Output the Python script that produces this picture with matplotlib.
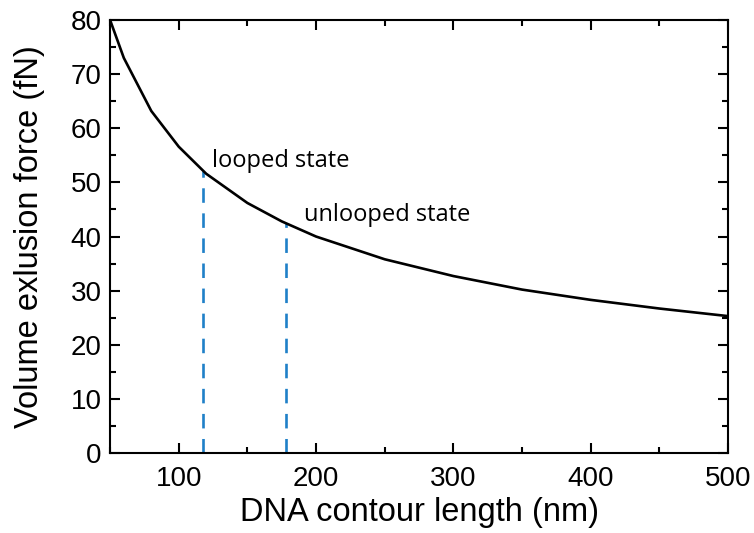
import matplotlib
matplotlib.use("Agg")
import matplotlib.pyplot as plt
from matplotlib.ticker import MultipleLocator
import numpy as np

# Data
length_nm = [50, 60, 80, 100, 120, 150, 175, 200, 250, 300, 350, 400, 450, 500]
force_fN = [80, 73, 63.2, 56.6, 51.6, 46.2, 42.8, 40.0, 35.8, 32.7, 30.2, 28.3, 26.7, 25.3]
state_x = [118, 178]
state_labels = ["looped state", "unlooped state"]
label_pos_x = [124, 191]
label_pos_y = [54.0, 43.9]

plt.rcParams['font.family'] = ['Liberation Sans', 'DejaVu Sans']

fig = plt.figure(figsize=(7.54, 5.33), dpi=100)
ax = fig.add_axes([0.146, 0.150, 0.8196, 0.8124])

ax.plot(length_nm, force_fN, color='black', lw=1.9, zorder=3)

state_y = np.interp(state_x, length_nm, force_fN)
for xv, yv in zip(state_x, state_y):
    ax.plot([xv, xv], [0, yv], color='#1f80c8', lw=1.9, dashes=(5.5, 4), zorder=2)

for t, lx, ly in zip(state_labels, label_pos_x, label_pos_y):
    ax.text(lx, ly, t, fontsize=17, family=['Open Sans', 'DejaVu Sans'], va='center', ha='left')

ax.set_xlim(50, 500)
ax.set_ylim(0, 80)
ax.xaxis.set_major_locator(MultipleLocator(100))
ax.xaxis.set_minor_locator(MultipleLocator(50))
ax.yaxis.set_major_locator(MultipleLocator(10))
ax.yaxis.set_minor_locator(MultipleLocator(5))
ax.tick_params(which='both', direction='in', top=True, right=True, width=1.5)
ax.tick_params(which='major', length=7, labelsize=20)
ax.tick_params(axis='x', which='major', pad=9)
ax.tick_params(axis='y', which='major', pad=6)
ax.tick_params(which='minor', length=4)
for s in ax.spines.values():
    s.set_linewidth(1.5)

ax.set_xlabel("DNA contour length (nm)", fontsize=23.5, labelpad=4)
ax.set_ylabel("Volume exlusion force (fN)", fontsize=23.5)
ax.yaxis.set_label_coords(-0.105, 0.5)

fig.savefig("out.png", dpi=100)
